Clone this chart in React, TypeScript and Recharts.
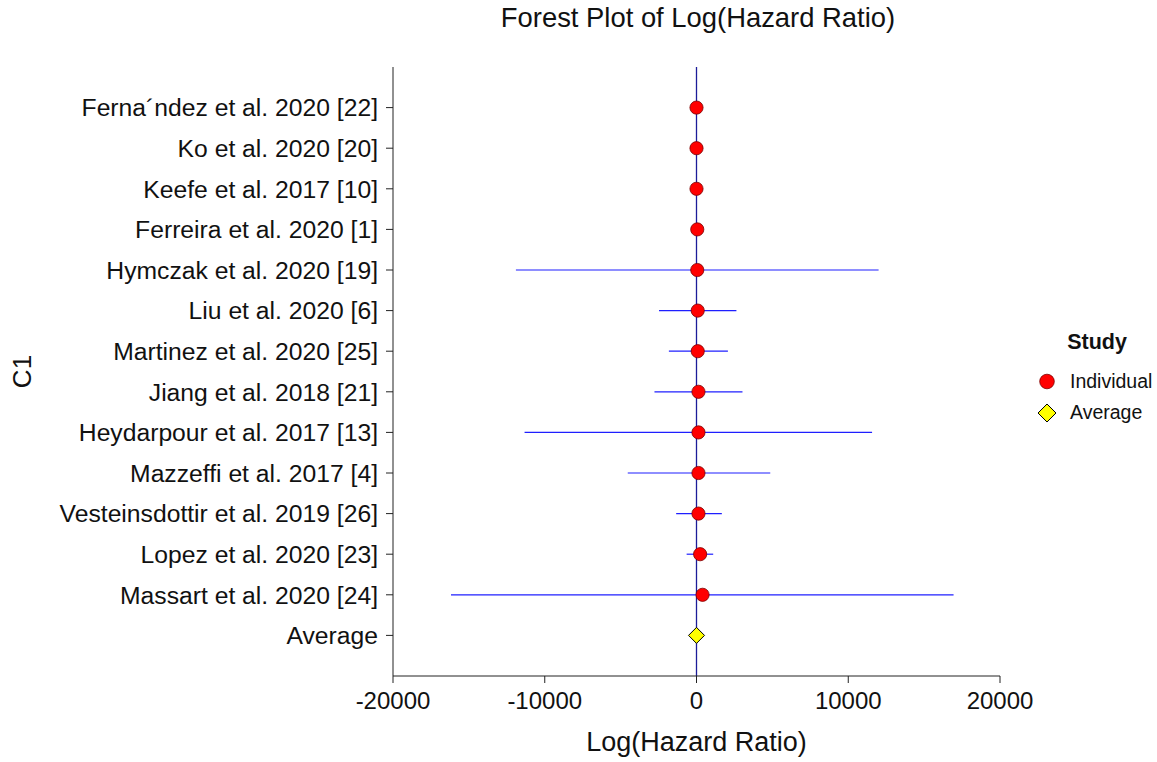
import React from 'react';
import { ScatterChart, Scatter, XAxis, YAxis, ErrorBar, ReferenceLine } from 'recharts';

const studies = [
  'Ferna\u00B4ndez et al. 2020 [22]',
  'Ko et al. 2020 [20]',
  'Keefe et al. 2017 [10]',
  'Ferreira et al. 2020 [1]',
  'Hymczak et al. 2020 [19]',
  'Liu et al. 2020 [6]',
  'Martinez et al. 2020 [25]',
  'Jiang et al. 2018 [21]',
  'Heydarpour et al. 2017 [13]',
  'Mazzeffi et al. 2017 [4]',
  'Vesteinsdottir et al. 2019 [26]',
  'Lopez et al. 2020 [23]',
  'Massart et al. 2020 [24]',
  'Average',
];
const estimates = [0, 0, 0, 50, 50, 80, 80, 130, 130, 130, 130, 240, 400, 0];
const lowerCI = [-130, -230, -320, -240, -11900, -2470, -1820, -2770, -11330, -4530, -1340, -650, -16180, -60];
const upperCI = [130, 230, 330, 350, 12000, 2630, 2070, 3030, 11570, 4860, 1670, 1100, 16940, 60];
const xTicks = [-20000, -10000, 0, 10000, 20000];
const legendTitle = 'Study';
const legendItems = ['Individual', 'Average'];

const rows = studies.map((name, i) => ({
  name,
  y: i + 1,
  x: estimates[i],
  err: [estimates[i] - lowerCI[i], upperCI[i] - estimates[i]],
}));
const individual = rows.slice(0, rows.length - 1);
const average = rows.slice(rows.length - 1);
const yTicks = rows.map((r) => r.y);

const FONT = '"Liberation Sans", Arial, Helvetica, sans-serif';

const Circle = (props: any) => (
  <circle cx={props.cx} cy={props.cy} r={6.6} fill="#ff0000" stroke="#7a0000" strokeWidth={0.8} />
);
const Diamond = (props: any) => {
  const { cx, cy } = props;
  const s = 8;
  return (
    <polygon
      points={`${cx},${cy - s} ${cx + s},${cy} ${cx},${cy + s} ${cx - s},${cy}`}
      fill="#ffff00"
      stroke="#000000"
      strokeWidth={1}
    />
  );
};
const Empty = () => <g />;

export default function App() {
  return (
    <div style={{ position: 'absolute', left: 0, top: 0, width: 1157, height: 762, background: '#fff', fontFamily: FONT }}>
      <ScatterChart width={1157} height={762} margin={{ top: 67, right: 157, bottom: 0, left: 0 }}>
        <XAxis
          type="number"
          dataKey="x"
          domain={[-20000, 20000]}
          ticks={xTicks}
          allowDataOverflow
          height={86}
          tickSize={7}
          tickMargin={9}
          stroke="#222"
          tick={{ fill: '#111', fontSize: 24, fontFamily: FONT }}
          label={{ value: 'Log(Hazard Ratio)', position: 'insideBottom', offset: 11, fill: '#111', fontSize: 27, fontFamily: FONT }}
        />
        <YAxis
          type="number"
          dataKey="y"
          domain={[0, 15]}
          ticks={yTicks}
          reversed
          width={393}
          tickSize={7}
          tickMargin={8}
          stroke="#222"
          interval={0}
          tickFormatter={(v: number) => studies[v - 1] ?? ''}
          tick={{ fill: '#111', fontSize: 24.7, fontFamily: FONT }}
          label={(p: any) => {
            const vb = p.viewBox || { x: 0, y: 67, width: 393, height: 609 };
            const x = vb.x + 22;
            const y = vb.y + vb.height / 2;
            return (
              <text x={x} y={y} transform={`rotate(-90, ${x}, ${y})`} textAnchor="middle" dominantBaseline="central" fill="#111" fontSize={26} fontFamily={FONT}>
                C1
              </text>
            );
          }}
        />
        <ReferenceLine x={0} stroke="#1c1c99" strokeWidth={1.3} />
        <Scatter name="Individual" data={individual} shape={Circle} isAnimationActive={false} />
        <Scatter name="Average" data={average} shape={Diamond} isAnimationActive={false}>
          <ErrorBar dataKey="err" direction="x" width={0} stroke="#000" strokeWidth={1.2} />
        </Scatter>
        <Scatter name="IndividualCI" data={individual} shape={Empty} isAnimationActive={false} legendType="none">
          <ErrorBar dataKey="err" direction="x" width={0} stroke="#1f1fff" strokeWidth={1.2} />
        </Scatter>
      </ScatterChart>
      <svg width={1157} height={762} style={{ position: 'absolute', left: 0, top: 0, pointerEvents: 'none' }}>
        <text x={698} y={27} textAnchor="middle" fontSize={27.4} fill="#111" fontFamily={FONT}>
          Forest Plot of Log(Hazard Ratio)
        </text>
        <text x={1097} y={349} textAnchor="middle" fontSize={21.5} fontWeight="bold" fill="#111" fontFamily={FONT}>
          {legendTitle}
        </text>
        <circle cx={1047} cy={381.5} r={7.3} fill="#ff0000" stroke="#7a0000" strokeWidth={0.8} />
        <text x={1070} y={388} fontSize={19.5} fill="#111" fontFamily={FONT}>
          {legendItems[0]}
        </text>
        <polygon points="1047,404 1056,413 1047,422 1038,413" fill="#ffff00" stroke="#000" strokeWidth={1} />
        <text x={1070} y={419} fontSize={19.5} fill="#111" fontFamily={FONT}>
          {legendItems[1]}
        </text>
      </svg>
    </div>
  );
}
